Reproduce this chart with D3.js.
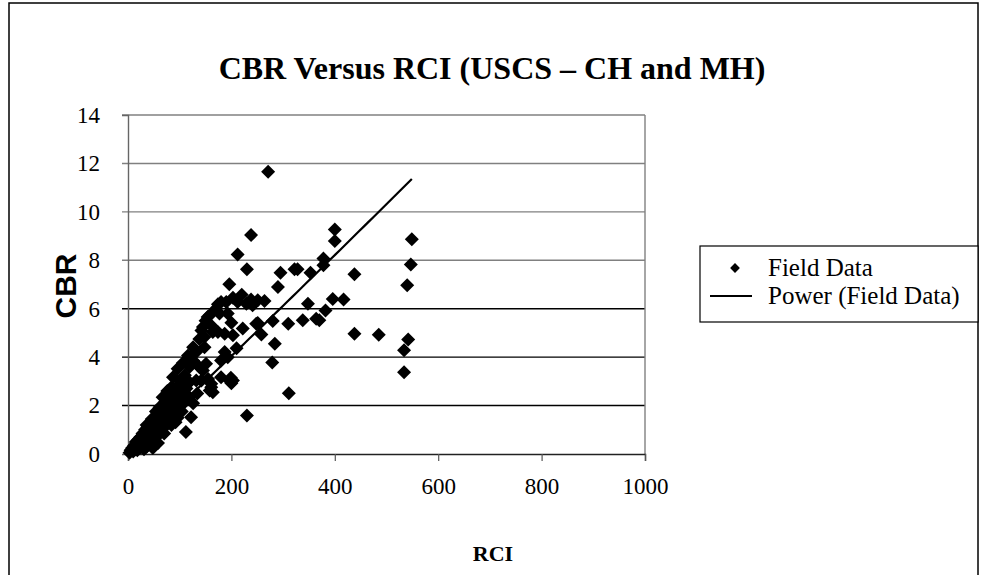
<!DOCTYPE html>
<html>
<head>
<meta charset="utf-8">
<script src="https://cdn.jsdelivr.net/npm/d3@7"></script>
<style>
  body { margin: 0; background: #fff; }
  #chart { width: 981px; height: 575px; }
  .tick text { font-family: "Liberation Serif", "Times New Roman", serif; font-size: 23px; fill: #000; }
</style>
</head>
<body>
<div id="chart"></div>
<script>
"use strict";

// axis ticks
const xTicks = [0, 200, 400, 600, 800, 1000];
const yTicks = [0, 2, 4, 6, 8, 10, 12, 14];

// field data [RCI, CBR]
const fieldData = [
    [549, 8.87], [547, 7.83], [540, 6.97], [542, 4.73], [534, 4.28], [534, 3.38],
    [485, 4.92], [438, 7.42], [438, 4.97], [417, 6.38], [396, 6.40], [400, 9.27],
    [400, 8.80], [382, 5.93], [378, 8.07], [378, 7.80], [370, 5.52], [364, 5.59],
    [353, 7.49], [348, 6.20], [338, 5.52], [328, 7.63], [322, 7.63], [310, 5.38],
    [311, 2.51], [295, 7.49], [290, 6.90], [284, 4.55], [280, 5.49], [279, 3.78],
    [271, 11.66], [264, 6.32], [258, 4.94], [251, 6.35], [251, 5.41], [238, 6.38],
    [238, 9.04], [230, 7.63], [230, 1.59], [212, 8.24], [241, 6.14], [229, 6.21],
    [220, 6.58], [212, 6.28], [203, 6.45], [196, 7.01], [190, 6.28], [180, 6.28],
    [174, 6.18], [170, 6.00], [177, 5.80], [193, 5.80], [158, 5.73], [154, 5.66],
    [150, 5.50], [200, 5.42], [222, 5.18], [248, 5.38], [203, 4.90], [187, 4.97],
    [174, 5.04], [164, 5.04], [161, 5.31], [145, 5.24], [142, 5.10], [138, 4.75],
    [148, 4.83], [148, 4.41], [126, 4.41], [210, 4.37], [187, 4.21], [193, 4.00],
    [180, 3.86], [132, 4.21], [126, 3.86], [116, 4.07], [106, 3.76], [119, 3.59],
    [138, 3.59], [151, 3.73], [142, 3.52], [96, 3.52], [87, 3.17], [145, 3.45],
    [196, 3.04], [203, 3.04], [199, 3.15], [200, 2.92], [180, 3.17], [155, 3.10],
    [132, 3.04], [119, 2.96], [142, 3.04], [161, 2.90], [161, 2.76], [164, 2.55],
    [158, 2.62], [100, 3.04], [84, 2.76], [119, 2.34], [67, 2.34], [61, 1.93],
    [122, 1.52], [112, 0.91], [92, 1.31], [76, 2.60], [72, 2.15], [54, 1.75],
    [46, 1.45], [36, 1.20], [104, 1.75], [96, 1.50], [84, 1.20], [70, 0.85],
    [58, 0.45], [48, 0.25], [126, 2.10], [134, 2.50], [110, 3.25],
    // dense cluster near the origin
    [3, 0.05], [5, 0.15], [8, 0.25], [10, 0.10], [12, 0.35], [14, 0.20], [15, 0.50],
    [17, 0.30], [18, 0.15], [20, 0.60], [21, 0.40], [22, 0.25], [24, 0.70], [25, 0.50],
    [26, 0.30], [28, 0.85], [29, 0.60], [30, 0.40], [31, 0.20], [33, 1.00], [34, 0.75],
    [35, 0.50], [36, 0.30], [38, 1.10], [39, 0.85], [40, 0.60], [41, 0.40], [43, 1.25],
    [44, 0.95], [45, 0.70], [47, 0.50], [48, 1.40], [49, 1.10], [50, 0.85], [52, 0.65],
    [53, 1.55], [54, 1.25], [56, 1.00], [57, 0.75], [58, 1.70], [60, 1.40], [61, 1.15],
    [62, 0.90], [64, 1.85], [65, 1.55], [67, 1.30], [68, 1.05], [70, 2.00], [71, 1.70],
    [73, 1.45], [75, 2.20], [76, 1.85], [78, 1.60], [80, 2.40], [82, 2.05], [84, 1.75],
    [86, 2.55], [88, 2.20], [90, 1.95], [93, 2.75], [95, 2.40], [98, 2.05], [100, 2.60],
    [103, 2.30], [105, 2.90], [108, 2.50], [110, 2.15], [113, 2.70]
];

// power trendline  CBR = a * RCI^b
const trendA = 0.018;
const trendB = 1.022;

const legendLabels = ["Field Data", "Power (Field Data)"];

class CbrChart {
    constructor(containerId) {
        const container = d3.select("#" + containerId);
        this.width = 981;
        this.height = 575;
        this.svg = container.append("svg")
            .attr("width", this.width)
            .attr("height", this.height);

        this.x = d3.scaleLinear().domain([0, 1000]).range([128, 645]);
        this.y = d3.scaleLinear().domain([0, 14]).range([454, 115]);

        this.drawFrame();
        this.drawGrid();
        this.drawAxes();
        this.drawPoints();
        this.drawTrend();
        this.drawLegend();
    }

    drawFrame() {
        // outer chart border
        this.svg.append("rect")
            .attr("x", 9).attr("y", 3)
            .attr("width", 969).attr("height", 600)
            .attr("fill", "none")
            .attr("stroke", "#000")
            .attr("stroke-width", 1.5);

        this.svg.append("text")
            .attr("x", 492).attr("y", 79)
            .attr("text-anchor", "middle")
            .style("font-family", "'Liberation Serif', serif")
            .style("font-weight", "bold")
            .style("font-size", "32px")
            .text("CBR Versus RCI (USCS \u2013 CH and MH)");

        this.svg.append("text")
            .attr("transform", "translate(76,286) rotate(-90)")
            .attr("text-anchor", "middle")
            .style("font-family", "'Liberation Sans', Arial, sans-serif")
            .style("font-weight", "bold")
            .style("font-size", "30px")
            .text("CBR");

        this.svg.append("text")
            .attr("x", 493).attr("y", 561)
            .attr("text-anchor", "middle")
            .style("font-family", "'Liberation Serif', serif")
            .style("font-weight", "bold")
            .style("font-size", "22px")
            .text("RCI");
    }

    drawGrid() {
        const x = this.x, y = this.y;
        // upper gridlines come out grey in the picture, lower ones black
        this.svg.append("g")
            .selectAll("line")
            .data(yTicks.filter(v => v > 0))
            .join("line")
            .attr("x1", x(0) - 6).attr("x2", x(1000))
            .attr("y1", d => y(d)).attr("y2", d => y(d))
            .attr("stroke", d => d >= 8 ? "#808080" : "#000")
            .attr("stroke-width", 1.4);

        // right border of plot area
        this.svg.append("line")
            .attr("x1", x(1000)).attr("x2", x(1000))
            .attr("y1", y(14)).attr("y2", y(0))
            .attr("stroke", "#808080")
            .attr("stroke-width", 1.4);
    }

    drawAxes() {
        const x = this.x, y = this.y;
        const xAxis = d3.axisBottom(x).tickValues(xTicks).tickFormat(d3.format("d"))
            .tickSize(7).tickPadding(17);
        const yAxis = d3.axisLeft(y).tickValues(yTicks).tickSize(6).tickPadding(22);

        const gx = this.svg.append("g")
            .attr("transform", "translate(0," + y(0) + ")")
            .call(xAxis);
        gx.select(".domain").attr("stroke", "#222").attr("stroke-width", 1.4);
        gx.selectAll(".tick line").attr("stroke", "#555").attr("stroke-width", 1.2);

        const gy = this.svg.append("g")
            .attr("transform", "translate(" + x(0) + ",0)")
            .call(yAxis);
        gy.select(".domain").attr("stroke", "#666").attr("stroke-width", 1.4);
        gy.selectAll(".tick line").attr("stroke", "none");
    }

    drawPoints() {
        const x = this.x, y = this.y;
        const diamond = d3.symbol().type(d3.symbolSquare).size(98)();
        this.svg.append("g")
            .selectAll("path")
            .data(fieldData)
            .join("path")
            .attr("d", diamond)
            .attr("transform", d => "translate(" + x(d[0]) + "," + y(d[1]) + ") rotate(45)")
            .attr("fill", "#000");
    }

    drawTrend() {
        const x = this.x, y = this.y;
        const xs = fieldData.map(d => d[0]);
        const lo = d3.min(xs), hi = d3.max(xs);
        const pts = d3.range(60).map(i => lo + (hi - lo) * i / 59)
            .map(r => [r, trendA * Math.pow(r, trendB)]);
        this.svg.append("path")
            .datum(pts)
            .attr("d", d3.line().x(d => x(d[0])).y(d => y(d[1])))
            .attr("fill", "none")
            .attr("stroke", "#000")
            .attr("stroke-width", 2.2);
    }

    drawLegend() {
        const g = this.svg.append("g");
        g.append("rect")
            .attr("x", 700).attr("y", 246)
            .attr("width", 278).attr("height", 76)
            .attr("fill", "#fff")
            .attr("stroke", "#000")
            .attr("stroke-width", 1.2);

        g.append("path")
            .attr("d", d3.symbol().type(d3.symbolSquare).size(48)())
            .attr("transform", "translate(735,268) rotate(45)")
            .attr("fill", "#000");
        g.append("line")
            .attr("x1", 710).attr("x2", 752)
            .attr("y1", 296).attr("y2", 296)
            .attr("stroke", "#000").attr("stroke-width", 2.2);

        g.selectAll("text")
            .data(legendLabels)
            .join("text")
            .attr("x", 768)
            .attr("y", (d, i) => 276 + i * 28)
            .style("font-family", "'Liberation Serif', serif")
            .style("font-size", "25px")
            .text(d => d);
    }
}

new CbrChart("chart");
</script>
</body>
</html>
